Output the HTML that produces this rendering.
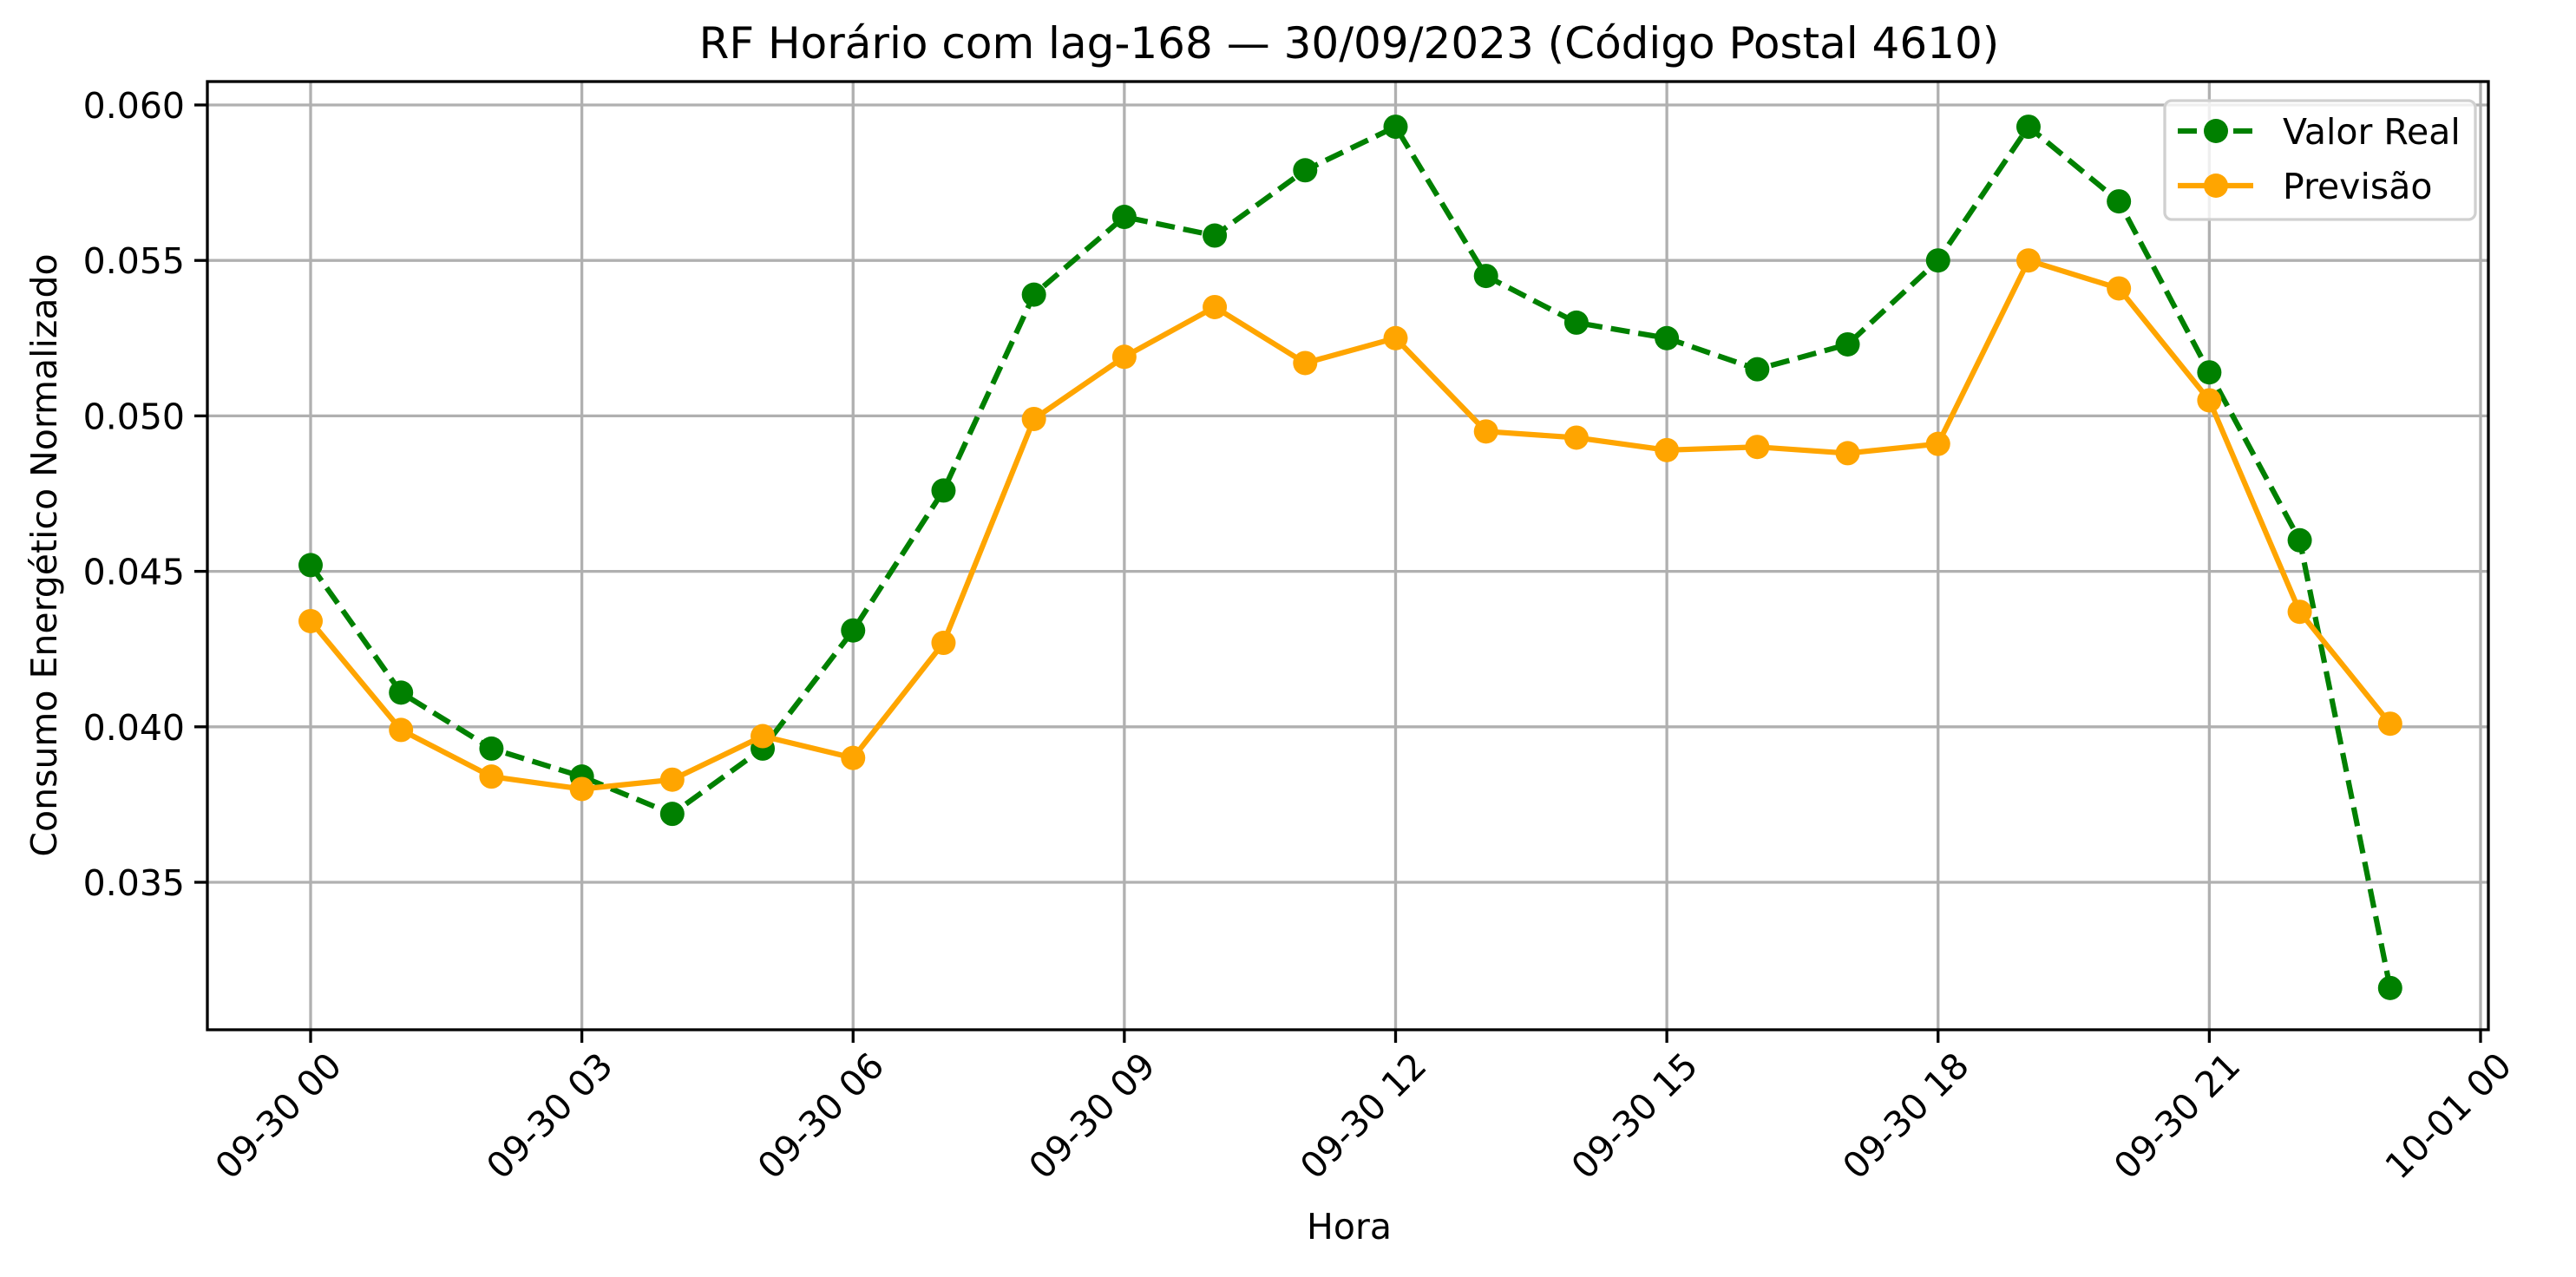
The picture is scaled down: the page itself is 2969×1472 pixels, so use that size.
<!DOCTYPE html>
<html><head><meta charset="utf-8"><style>
html,body{margin:0;padding:0;background:#fff;}
svg text{font-family:"DejaVu Sans","Liberation Sans",sans-serif;fill:#000;}
</style></head><body>
<svg id="chart" width="2969" height="1467" viewBox="0 0 2969 1467" xmlns="http://www.w3.org/2000/svg">
<rect width="2969" height="1467" fill="#fff"/>
<text x="1555" y="67" font-size="50" text-anchor="middle">RF Horário com lag-168 — 30/09/2023 (Código Postal 4610)</text>
<g id="grid"></g>
<g id="series"></g>
<rect x="239" y="94" width="2629" height="1093" fill="none" stroke="#000" stroke-width="3.3"/>
<g id="ticks"></g>
<text x="1555" y="1428" font-size="41" text-anchor="middle">Hora</text>
<text transform="translate(65,640) rotate(-90)" font-size="41" text-anchor="middle">Consumo Energético Normalizado</text>
<g>
<rect x="2495" y="116" width="358" height="137" rx="8" fill="#fff" fill-opacity="0.8" stroke="#d0d0d0" stroke-width="3.3"/>
<line x1="2510" y1="151" x2="2597" y2="151" stroke="#008000" stroke-width="6.2" stroke-dasharray="22,10"/>
<circle cx="2554" cy="151" r="14" fill="#008000"/>
<text x="2631" y="166" font-size="41">Valor Real</text>
<line x1="2510" y1="214" x2="2597" y2="214" stroke="#ffa500" stroke-width="6.2"/>
<circle cx="2554" cy="214" r="14" fill="#ffa500"/>
<text x="2631" y="229" font-size="41">Previsão</text>
</g>
</svg>
<script>
const hours = [0,1,2,3,4,5,6,7,8,9,10,11,12,13,14,15,16,17,18,19,20,21,22,23];
const realValues = [0.0452,0.0411,0.0393,0.0384,0.0372,0.0393,0.0431,0.0476,0.0539,0.0564,0.0558,0.0579,0.0593,0.0545,0.0530,0.0525,0.0515,0.0523,0.0550,0.0593,0.0569,0.0514,0.0460,0.0316];
const forecastValues = [0.0434,0.0399,0.0384,0.0380,0.0383,0.0397,0.0390,0.0427,0.0499,0.0519,0.0535,0.0517,0.0525,0.0495,0.0493,0.0489,0.0490,0.0488,0.0491,0.0550,0.0541,0.0505,0.0437,0.0401];
const yTicks = [0.035,0.040,0.045,0.050,0.055,0.060];
const xTickHours = [0,3,6,9,12,15,18,21,24];
const xTickLabels = ["09-30 00","09-30 03","09-30 06","09-30 09","09-30 12","09-30 15","09-30 18","09-30 21","10-01 00"];

const NS = "http://www.w3.org/2000/svg";
const L=239,R=2868,T=94,B=1187;
function xs(h){return 358 + h*(2859-358)/24;}
function ys(v){return 121 + (0.060 - v)/0.005*179.2;}
function mk(tag,attrs,parent){const e=document.createElementNS(NS,tag);for(const k in attrs)e.setAttribute(k,attrs[k]);parent.appendChild(e);return e;}
const grid=document.getElementById('grid'), ticks=document.getElementById('ticks'), series=document.getElementById('series');

yTicks.forEach((v,i)=>{
  const y=ys(v);
  const g=mk('line',{x1:L,x2:R,y1:y,y2:y,stroke:'#b0b0b0','stroke-width':3.3},grid);
  
  
  mk('line',{x1:L-15,x2:L,y1:y,y2:y,stroke:'#000','stroke-width':3.3},ticks);
  const t=mk('text',{x:L-26,y:y+15,'font-size':41,'text-anchor':'end'},ticks);
  t.textContent=v.toFixed(3);
  
  
});
xTickHours.forEach((h,i)=>{
  const x=xs(h);
  const g=mk('line',{x1:x,x2:x,y1:T,y2:B,stroke:'#b0b0b0','stroke-width':3.3},grid);
  
  
  mk('line',{x1:x,x2:x,y1:B,y2:B+15,stroke:'#000','stroke-width':3.3},ticks);
  const t=mk('text',{'font-size':41,'text-anchor':'end',transform:`translate(${x+38},${B+44}) rotate(-45)`},ticks);
  t.textContent=xTickLabels[i];
  
  
});
function drawSeries(vals,color,dash,name){
  const pts=hours.map((h,i)=>xs(h)+','+ys(vals[i])).join(' ');
  const attrs={points:pts,fill:'none',stroke:color,'stroke-width':6.2,'stroke-linejoin':'round'};
  if(dash)attrs['stroke-dasharray']=dash;
  const pl=mk('polyline',attrs,series);
  
  
  hours.forEach((h,i)=>{
    const c=mk('circle',{cx:xs(h),cy:ys(vals[i]),r:14,fill:color},series);
    
    
  });
}
drawSeries(realValues,'#008000','22,10','real');
drawSeries(forecastValues,'#ffa500',null,'forecast');
</script>
</body></html>
